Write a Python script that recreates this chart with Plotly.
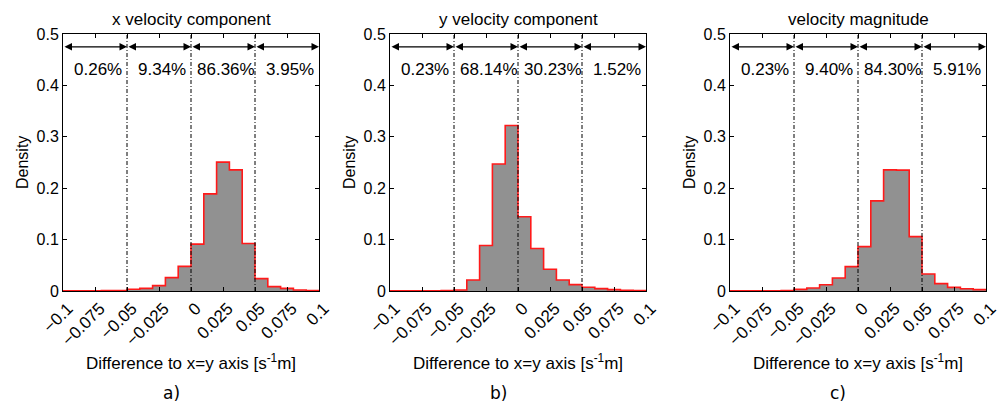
import plotly.graph_objects as go

# ---------------- data ----------------
bin_width = 0.01
bin_left = [-0.1, -0.09, -0.08, -0.07, -0.06, -0.05, -0.04, -0.03, -0.02, -0.01,
            0.0, 0.01, 0.02, 0.03, 0.04, 0.05, 0.06, 0.07, 0.08, 0.09]

x_vel = [0.0003, 0.0004, 0.0005, 0.0007, 0.0007,
         0.0033, 0.0052, 0.0104, 0.0260, 0.0480,
         0.0911, 0.1890, 0.2507, 0.2357, 0.0924,
         0.0240, 0.0085, 0.0052, 0.0020, 0.0007]
y_vel = [0.0003, 0.0003, 0.0004, 0.0006, 0.0007,
         0.0020, 0.0215, 0.0885, 0.2470, 0.3220,
         0.1445, 0.0827, 0.0423, 0.0215, 0.0124,
         0.0072, 0.0046, 0.0026, 0.0013, 0.0007]
mag = [0.0003, 0.0003, 0.0004, 0.0006, 0.0007,
       0.0032, 0.0058, 0.0123, 0.0253, 0.0474,
       0.0864, 0.1753, 0.2357, 0.2351, 0.1058,
       0.0331, 0.0143, 0.0071, 0.0045, 0.0026]

titles = ["x velocity component", "y velocity component", "velocity magnitude"]
panel_labels = ["a)", "b)", "c)"]
percent_labels = [["0.26%", "9.34%", "86.36%", "3.95%"],
                  ["0.23%", "68.14%", "30.23%", "1.52%"],
                  ["0.23%", "9.40%", "84.30%", "5.91%"]]
region_edges = [-0.1, -0.05, 0.0, 0.05, 0.1]
divider_x = [-0.05, 0.0, 0.05]

tick_vals = [-0.1, -0.075, -0.05, -0.025, 0, 0.025, 0.05, 0.075, 0.1]
tick_text = ["\u22120.1", "\u22120.075", "\u22120.05", "\u22120.025", "0",
             "0.025", "0.05", "0.075", "0.1"]
ytick_vals = [0, 0.1, 0.2, 0.3, 0.4, 0.5]
ytick_text = ["0", "0.1", "0.2", "0.3", "0.4", "0.5"]

series = [x_vel, y_vel, mag]

# ---------------- layout geometry ----------------
W, H = 1005, 404
x_domains = [(63, 319), (390, 646), (730, 986)]
y_top, y_bot = 34, 291
yd = [1 - y_bot / H, 1 - y_top / H]

FONT = "Liberation Sans, Arial, sans-serif"
fig = go.Figure()
annotations = []
shapes = []

for i, vals in enumerate(series):
    xa = "x" if i == 0 else f"x{i+1}"
    ya = "y" if i == 0 else f"y{i+1}"
    xs = list(bin_left) + [bin_left[-1] + bin_width]
    ys = list(vals) + [vals[-1]]
    fig.add_trace(go.Scatter(
        x=xs, y=ys, mode="lines", line=dict(shape="hv", color="#ff1a1a", width=1.6),
        fill="tozeroy", fillcolor="#919191", xaxis=xa, yaxis=ya,
        showlegend=False, hoverinfo="skip"))

    # divider lines
    for dx in divider_x:
        shapes.append(dict(type="line", xref=xa, yref=ya, x0=dx, x1=dx, y0=0, y1=0.5,
                           line=dict(color="black", width=1, dash="4px,2px,1px,2px")))
    # double arrows and percentages
    for k in range(4):
        annotations.append(dict(
            x=region_edges[k + 1], y=0.475, ax=region_edges[k], ay=0.475,
            xref=xa, yref=ya, axref=xa, ayref=ya, text="", showarrow=True,
            arrowhead=2, arrowside="end+start", arrowsize=1.15, arrowwidth=1.3,
            arrowcolor="black", standoff=0, startstandoff=0))
        annotations.append(dict(
            x=(region_edges[k] + region_edges[k + 1]) / 2 + 0.002, y=0.431,
            xref=xa, yref=ya, xanchor="center", yanchor="middle",
            text=percent_labels[i][k], showarrow=False,
            font=dict(family=FONT, size=17, color="black")))

    axis_common = dict(showline=True, linecolor="black", linewidth=1, mirror="ticks",
                       ticks="inside", ticklen=4, tickcolor="black", showgrid=False,
                       zeroline=False, automargin=False)
    d0, d1 = x_domains[i]
    fig.layout[("xaxis" if i == 0 else f"xaxis{i+1}")] = dict(
        domain=[d0 / W, d1 / W], range=[-0.1, 0.1], anchor=ya,
        tickvals=tick_vals, ticktext=tick_text, tickangle=-45, ticklabelshift=5,
        tickfont=dict(family=FONT, size=17, color="black"), **axis_common)
    fig.layout[("yaxis" if i == 0 else f"yaxis{i+1}")] = dict(
        domain=yd, range=[0, 0.5], anchor=xa,
        tickvals=ytick_vals, ticktext=ytick_text,
        tickfont=dict(family=FONT, size=16, color="black"), **axis_common)

    cx = (d0 + d1) / 2
    annotations.append(dict(x=cx / W, y=1 - 19 / H, xref="paper", yref="paper",
                            xanchor="center", yanchor="middle",
                            text=titles[i], showarrow=False,
                            font=dict(family=FONT, size=17, color="black")))
    annotations.append(dict(x=cx / W, y=1 - 362 / H, xref="paper", yref="paper",
                            xanchor="center", yanchor="middle",
                            text="Difference to x=y axis [s<sup>-1</sup>m]", showarrow=False,
                            font=dict(family=FONT, size=17, color="black")))
    annotations.append(dict(x=(d0 - 41) / W, y=1 - 163 / H, xref="paper", yref="paper",
                            xanchor="center", yanchor="middle",
                            text="Density", textangle=-90, showarrow=False,
                            font=dict(family=FONT, size=16, color="black")))
    annotations.append(dict(x=(cx - 20) / W, y=1 - 393 / H, xref="paper", yref="paper",
                            xanchor="center", yanchor="middle",
                            text=panel_labels[i], showarrow=False,
                            font=dict(family="DejaVu Sans, sans-serif", size=17, color="black")))

fig.update_layout(width=W, height=H, margin=dict(l=0, r=0, t=0, b=0, autoexpand=False),
                  paper_bgcolor="white", plot_bgcolor="white",
                  annotations=annotations, shapes=shapes, showlegend=False)
fig.write_html("out.html", config={"displayModeBar": False},
               post_script="document.body.style.margin='0';document.body.style.overflow='hidden';")
